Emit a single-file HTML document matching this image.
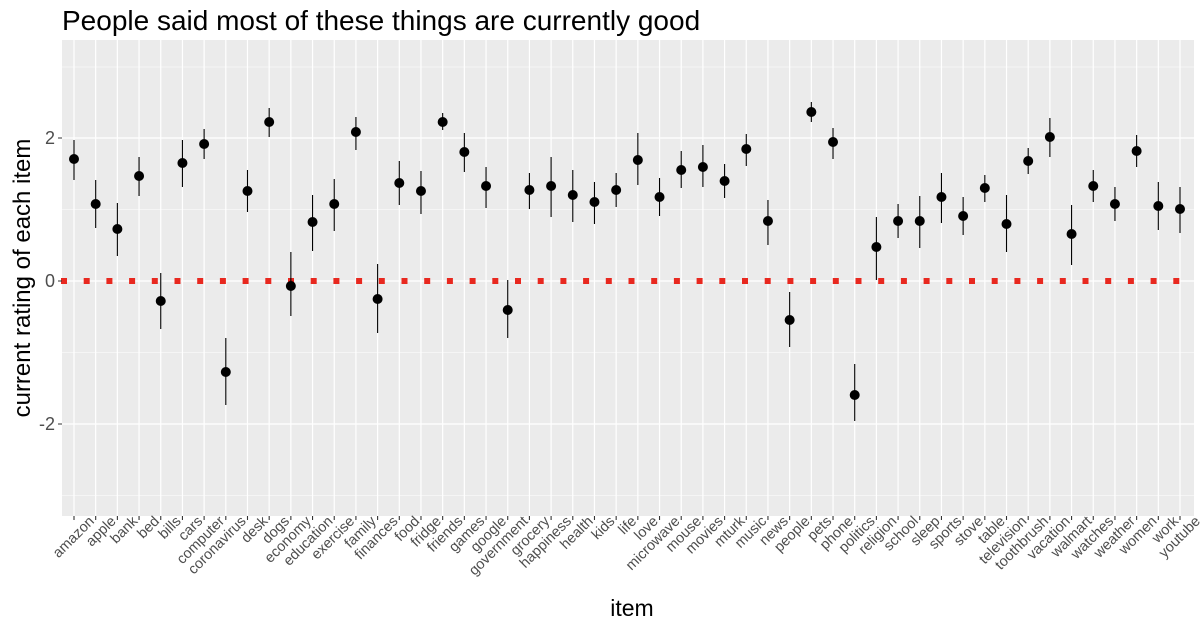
<!DOCTYPE html>
<html><head><meta charset="utf-8"><style>
body{margin:0;background:#fff;width:1200px;height:630px;overflow:hidden}
svg text{font-family:"Liberation Sans",Arial,sans-serif}
</style></head><body>
<svg id="s" width="1200" height="630" xmlns="http://www.w3.org/2000/svg"></svg>
<script>
const items="amazon apple bank bed bills cars computer coronavirus desk dogs economy education exercise family finances food fridge friends games google government grocery happiness health kids life love microwave mouse movies mturk music news people pets phone politics religion school sleep sports stove table television toothbrush vacation walmart watches weather women work youtube".split(" ");
const d=[[159,140,180],[204,180,228],[229,203,256],[176,157,196],[301,273,329],[163,140,187],[144,129,159],[372,338,405],[191,170,212],[122,108,137],[286,252,316],[222,195,251],[204,179,231],[132,117,150],[299,264,333],[183,161,205],[191,171,214],[122,113,130],[152,133,172],[186,167,208],[310,280,338],[190,173,209],[186,157,217],[195,170,222],[202,182,224],[190,173,207],[160,133,185],[197,178,216],[170,151,188],[167,145,187],[181,164,198],[149,134,166],[221,200,245],[320,292,347],[112,102,122],[142,128,159],[395,364,421],[247,217,280],[221,204,238],[221,196,248],[197,173,223],[216,197,235],[188,175,202],[224,195,252],[161,148,174],[137,118,157],[234,205,265],[186,170,202],[204,187,221],[151,135,167],[206,182,230],[209,187,233]];
const L=62,R=1194,T=40,B=516,x0=74,dx=(1180-74)/51;
let h=`<text x="62" y="30" font-size="28" fill="#000">People said most of these things are currently good</text>`;
h+=`<rect x="${L}" y="${T}" width="${R-L}" height="${B-T}" fill="#ebebeb"/>`;
[67,209.5,352.5,495.5].forEach(y=>h+=`<line x1="${L}" x2="${R}" y1="${y}" y2="${y}" stroke="#fff" stroke-width="0.6"/>`);
[138,281,424].forEach(y=>h+=`<line x1="${L}" x2="${R}" y1="${y}" y2="${y}" stroke="#fff" stroke-width="1.2"/>`);
items.forEach((n,i)=>{const x=x0+i*dx;h+=`<line x1="${x}" x2="${x}" y1="${T}" y2="${B}" stroke="#fff" stroke-width="1.2"/>`;
h+=`<line x1="${x}" x2="${x}" y1="${B}" y2="${B+4}" stroke="#333" stroke-width="1.1"/>`;
h+=`<text transform="translate(${x+21},${B+6}) rotate(-45)" text-anchor="end" font-size="14.5" fill="#4d4d4d">${n}</text>`;});
for(let x=64;x<R;x+=22.7)h+=`<rect x="${x-3}" y="278" width="6" height="6" fill="#e8281f"/>`;
d.forEach((v,i)=>{const x=x0+i*dx;h+=`<line x1="${x}" x2="${x}" y1="${v[1]}" y2="${v[2]}" stroke="#000" stroke-width="1.1"/><circle cx="${x}" cy="${v[0]}" r="5" fill="#000"/>`;});
[[138,"2"],[281,"0"],[424,"-2"]].forEach(([y,t])=>{h+=`<line x1="${L-4}" x2="${L}" y1="${y}" y2="${y}" stroke="#333"/><text x="${L-7}" y="${y+6}" text-anchor="end" font-size="18" fill="#4d4d4d">${t}</text>`;});
h+=`<text transform="translate(30,278) rotate(-90)" text-anchor="middle" font-size="24" fill="#000">current rating of each item</text>`;
h+=`<text x="632" y="616" text-anchor="middle" font-size="23" fill="#000">item</text>`;
document.getElementById("s").innerHTML=h;
</script>
</body></html>
